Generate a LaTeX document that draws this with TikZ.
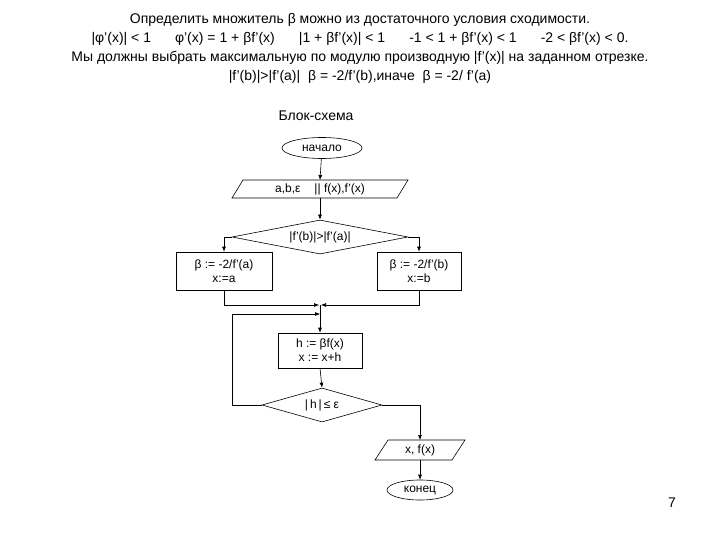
\documentclass[tikz,border=0pt]{standalone}
\usepackage{fontspec}
\setmainfont{Liberation Sans}
\usetikzlibrary{arrows.meta,shapes.geometric}
\begin{document}
\begin{tikzpicture}[x=1pt,y=-1pt,
  every node/.style={font=\fontsize{12}{14}\selectfont, inner sep=1pt},
  arr/.style={-{Latex[length=5pt,width=4pt]}, line width=0.6pt},
  ln/.style={line width=0.6pt},
  term/.style={ellipse, draw, line width=0.6pt, minimum width=#1, minimum height=21pt},
  proc/.style={rectangle, draw, line width=0.6pt, align=center},
  dec/.style={diamond, draw, line width=0.6pt, aspect=5.3, inner sep=0pt},
  top/.style={font=\fontsize{14}{16}\selectfont}]
\useasboundingbox (0,0) rectangle (720,540);
\node[top] (t1) at (360,20) {Определить множитель β можно из достаточного условия сходимости.};
\node[top] (t2) at (360,39) {|φ’(x)| < 1\hspace{24pt}φ’(x) = 1 + βf’(x)\hspace{24pt}|1 + βf’(x)| < 1\hspace{24pt}-1 < 1 + βf’(x) < 1\hspace{24pt}-2 < βf’(x) < 0.};
\node[top] (t3) at (360,58) {Мы должны выбрать максимальную по модулю производную |f’(x)| на заданном отрезке.};
\node[top] (t4) at (360,77) {|f’(b)|>|f’(a)|\ \ β = -2/f’(b),иначе\ \ β = -2/ f’(a)};
\node[top] (bs) at (316,116) {Блок-схема};
\node[term=80pt] (start) at (322,148) {начало};
\node (inp) at (320,189) {a,b,ε\hspace{14pt}|| f(x),f'(x)};
\draw[ln] (243,180) -- (408,180) -- (397,198) -- (232,198) -- cycle;
\coordinate (inpT) at (320,180); \coordinate (inpB) at (320,198);
\node[dec, minimum width=176pt, minimum height=34pt] (d1) at (320,237) {|f'(b)|>|f'(a)|};
\node[proc, minimum width=96pt, minimum height=38pt] (bl) at (224,271) {β := -2/f'(a)\\x:=a};
\node[proc, minimum width=84pt, minimum height=38pt] (br) at (419,271) {β := -2/f'(b)\\x:=b};
\node[proc, minimum width=84pt, minimum height=35pt] (pr) at (320,350.5) {h := βf(x)\\x := x+h};
\node[dec, minimum width=120pt, minimum height=34pt] (d2) at (322,405) {|\,h\,|\,≤ ε};
\node (outp) at (420,450) {x, f(x)};
\draw[ln] (388,440) -- (465,440) -- (452,460) -- (375,460) -- cycle;
\coordinate (outT) at (420,440); \coordinate (outB) at (420,460);
\node[term=66pt, minimum height=20pt] (end) at (420,490) {конец};
\node[top] (pg) at (672,503) {7};
\coordinate (j) at (320,305);
\coordinate (j2) at (320,314);
\draw[arr] (start) -- (inpT);
\draw[arr] (inpB) -- (d1.north);
\draw[arr] (d1.west) -| (bl.north);
\draw[arr] (d1.east) -| (br.north);
\draw[arr] (bl.south) |- ([xshift=-1pt]j);
\draw[arr] (br.south) |- ([xshift=1pt]j);
\draw[arr] (j) -- (pr.north);
\draw[arr] (d2.west) -- (232,405) -- (232,314) -- (j2);
\draw[arr] (pr.south) -- (d2.north);
\draw[arr] (d2.east) -| (outT);
\draw[arr] (outB) -- (end);
\end{tikzpicture}
\end{document}
